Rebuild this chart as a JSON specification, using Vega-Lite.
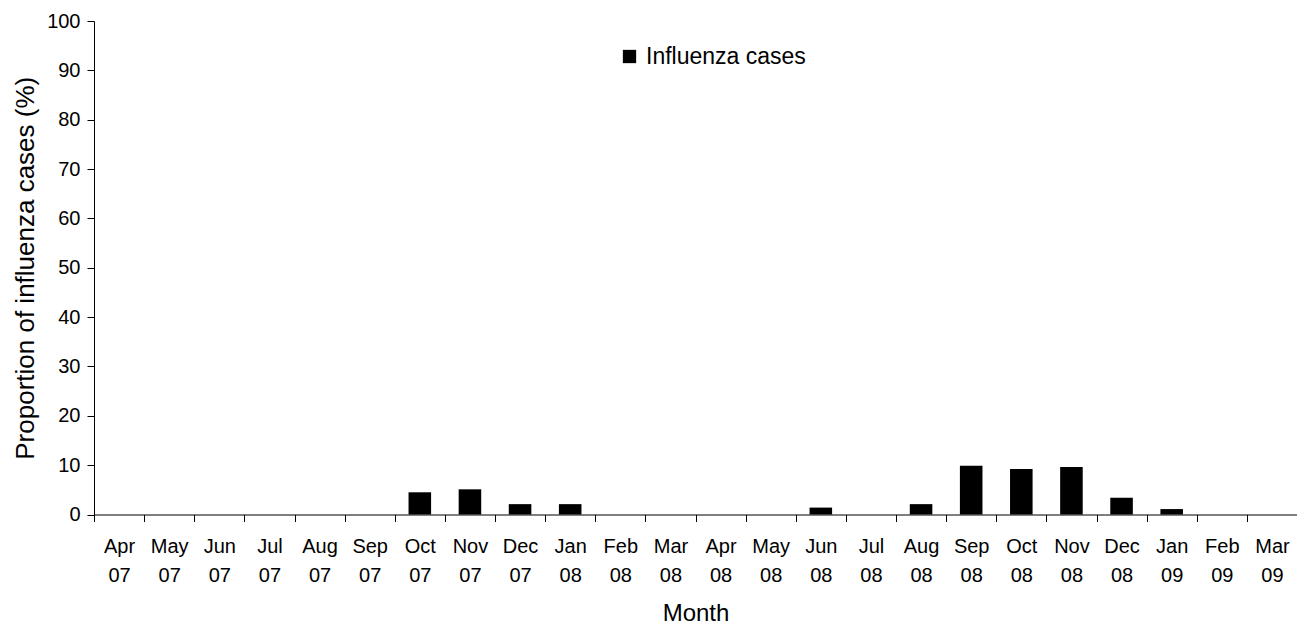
{
  "$schema": "https://vega.github.io/schema/vega-lite/v6.json",
  "autosize": {"type": "none"},
  "padding": {"left": 94, "top": 21, "right": 0, "bottom": 113.5},
  "width": 1203,
  "height": 493.5,
  "background": "white",
  "config": {
    "view": {"stroke": null},
    "font": "Liberation Sans",
    "axis": {"domainColor": "black", "tickColor": "black", "labelColor": "black", "titleColor": "black", "grid": false, "titleFontWeight": "normal"}
  },
  "data": {
    "values": [
      {"month": "Apr 07", "value": 0, "series": "Influenza cases"},
      {"month": "May 07", "value": 0, "series": "Influenza cases"},
      {"month": "Jun 07", "value": 0, "series": "Influenza cases"},
      {"month": "Jul 07", "value": 0, "series": "Influenza cases"},
      {"month": "Aug 07", "value": 0, "series": "Influenza cases"},
      {"month": "Sep 07", "value": 0, "series": "Influenza cases"},
      {"month": "Oct 07", "value": 4.5, "series": "Influenza cases"},
      {"month": "Nov 07", "value": 5.1, "series": "Influenza cases"},
      {"month": "Dec 07", "value": 2.1, "series": "Influenza cases"},
      {"month": "Jan 08", "value": 2.1, "series": "Influenza cases"},
      {"month": "Feb 08", "value": 0, "series": "Influenza cases"},
      {"month": "Mar 08", "value": 0, "series": "Influenza cases"},
      {"month": "Apr 08", "value": 0, "series": "Influenza cases"},
      {"month": "May 08", "value": 0, "series": "Influenza cases"},
      {"month": "Jun 08", "value": 1.4, "series": "Influenza cases"},
      {"month": "Jul 08", "value": 0, "series": "Influenza cases"},
      {"month": "Aug 08", "value": 2.1, "series": "Influenza cases"},
      {"month": "Sep 08", "value": 9.9, "series": "Influenza cases"},
      {"month": "Oct 08", "value": 9.2, "series": "Influenza cases"},
      {"month": "Nov 08", "value": 9.6, "series": "Influenza cases"},
      {"month": "Dec 08", "value": 3.4, "series": "Influenza cases"},
      {"month": "Jan 09", "value": 1.1, "series": "Influenza cases"},
      {"month": "Feb 09", "value": 0, "series": "Influenza cases"},
      {"month": "Mar 09", "value": 0, "series": "Influenza cases"}
    ]
  },
  "mark": {"type": "bar", "width": {"band": 0.45}},
  "encoding": {
    "x": {
      "field": "month",
      "type": "nominal",
      "sort": null,
      "scale": {"paddingInner": 0, "paddingOuter": 0},
      "axis": {
        "title": "Month",
        "titleFontSize": 24,
        "titlePadding": 16,
        "labelAngle": 0,
        "labelFontSize": 20,
        "labelExpr": "split(datum.label, ' ')",
        "labelLineHeight": 29,
        "labelPadding": 15,
        "tickSize": 7,
        "tickBand": "extent",
        "labelBaseline": "top"
      }
    },
    "y": {
      "field": "value",
      "type": "quantitative",
      "scale": {"domain": [0, 100], "nice": false},
      "axis": {
        "title": "Proportion of influenza cases (%)",
        "titleFontSize": 26,
        "titlePadding": 8,
        "values": [0, 10, 20, 30, 40, 50, 60, 70, 80, 90, 100],
        "labelFontSize": 20,
        "labelPadding": 7,
        "tickSize": 7
      }
    },
    "color": {
      "field": "series",
      "type": "nominal",
      "scale": {"range": ["black"]},
      "legend": {
        "title": null,
        "orient": "none",
        "legendX": 524,
        "legendY": 24,
        "symbolType": "square",
        "symbolSize": 177,
        "symbolStrokeWidth": 0,
        "labelFontSize": 23,
        "labelColor": "black",
        "padding": 0,
        "labelOffset": 5
      }
    }
  }
}
